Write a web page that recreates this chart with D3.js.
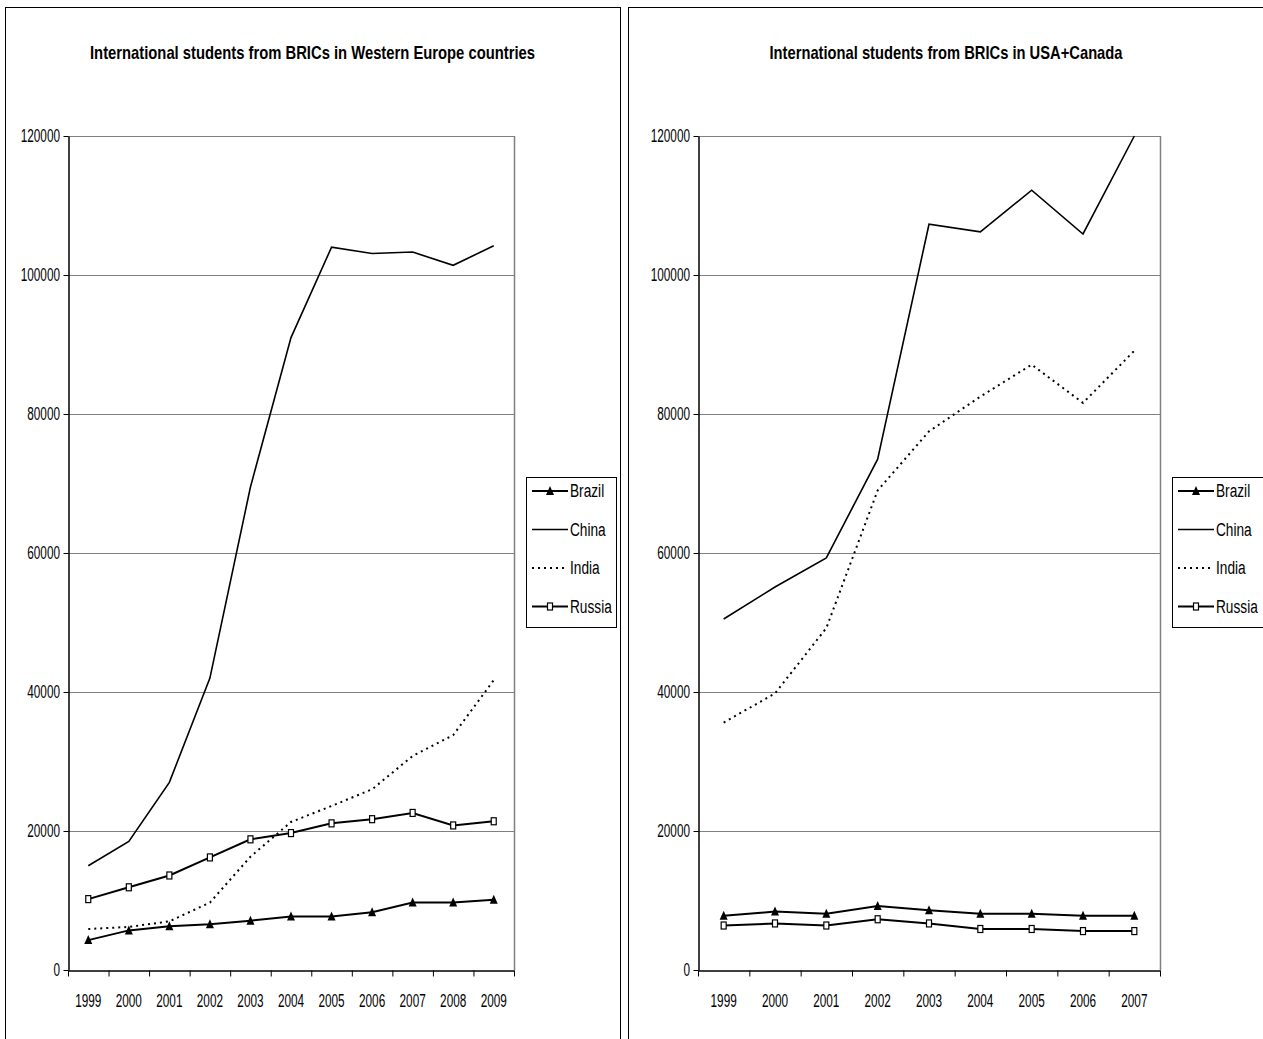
<!DOCTYPE html>
<html>
<head>
<meta charset="utf-8">
<title>International students from BRICs</title>
<script src="https://cdn.jsdelivr.net/npm/d3@7"></script>
<style>
  body { margin: 0; background: #fff; }
  text { font-family: "Liberation Sans", Arial, sans-serif; fill: #000; }
</style>
</head>
<body>
<div id="viz"></div>
<script>
// DATA
var seriesNames = ["Brazil", "China", "India", "Russia"];

var euYears  = ["1999", "2000", "2001", "2002", "2003", "2004", "2005", "2006", "2007", "2008", "2009"];
var euBrazil = [4300, 5700, 6300, 6600, 7100, 7700, 7700, 8300, 9700, 9700, 10100];
var euChina  = [15000, 18500, 27000, 42000, 69500, 91000, 104000, 103100, 103300, 101400, 104200];
var euIndia  = [5900, 6200, 7000, 9700, 16300, 21300, 23600, 26000, 30800, 33800, 41700];
var euRussia = [10200, 11900, 13600, 16200, 18800, 19700, 21100, 21700, 22600, 20800, 21400];

var naYears  = ["1999", "2000", "2001", "2002", "2003", "2004", "2005", "2006", "2007"];
var naBrazil = [7800, 8400, 8100, 9200, 8600, 8100, 8100, 7800, 7800];
var naChina  = [50500, 55100, 59300, 73500, 107300, 106200, 112200, 105900, 120000];
var naIndia  = [35600, 39800, 49200, 69000, 77500, 82500, 87100, 81600, 89100];
var naRussia = [6400, 6700, 6400, 7300, 6700, 5900, 5900, 5600, 5600];

var yTicks = [0, 20000, 40000, 60000, 80000, 100000, 120000];

// Dimensions
var w = 1263, h = 1039;
var fs = 19;
var sxAxis = 0.62;    // excel lettering is squeezed sideways
var sxLegend = 0.72;

var panels = [
  { title: "International students from BRICs in Western Europe countries",
    titleW: 445,
    years: euYears, values: [euBrazil, euChina, euIndia, euRussia],
    box: [5, 620], plot: [68, 514], legend: [526, 616] },
  { title: "International students from BRICs in USA+Canada",
    titleW: 353,
    years: naYears, values: [naBrazil, naChina, naIndia, naRussia],
    box: [628, 1264], plot: [698, 1160], legend: [1172, 1270] }
];

var styles = {
  Brazil: { width: 2,   dash: null,  marker: "tri" },
  China:  { width: 1.6, dash: null,  marker: null },
  India:  { width: 2,   dash: "2,4", marker: null },
  Russia: { width: 2,   dash: null,  marker: "sq" }
};

var svg = d3.select("#viz").append("svg")
  .attr("width", w)
  .attr("height", h);

function squeezedText(g, x, y, str, anchor, sx) {
  return g.append("text")
    .attr("transform", "translate(" + x + "," + y + ") scale(" + sx + ",1)")
    .attr("text-anchor", anchor || "start")
    .style("font-size", fs + "px")
    .text(str);
}

function drawMarker(g, type, x, y) {
  if (type === "tri") {
    g.append("path")
      .attr("d", "M" + x + "," + (y - 5) + "L" + (x + 4) + "," + (y + 4) + "L" + (x - 4) + "," + (y + 4) + "Z")
      .attr("fill", "#000");
  } else if (type === "sq") {
    g.append("rect")
      .attr("x", x - 2.5).attr("y", y - 3.5)
      .attr("width", 5).attr("height", 7)
      .attr("fill", "#fff").attr("stroke", "#000").attr("stroke-width", 1.2);
  }
}

panels.forEach(function(p) {
  var g = svg.append("g");

  // outer frame
  g.append("rect")
    .attr("x", p.box[0] + 0.5).attr("y", 7.5)
    .attr("width", p.box[1] - p.box[0]).attr("height", h)
    .attr("fill", "none").attr("stroke", "#000").attr("stroke-width", 1);

  // title
  g.append("text")
    .attr("x", (p.box[0] + p.box[1]) / 2)
    .attr("y", 59)
    .attr("text-anchor", "middle")
    .attr("textLength", p.titleW)
    .attr("lengthAdjust", "spacingAndGlyphs")
    .style("font-size", "19px")
    .style("font-weight", "bold")
    .text(p.title);

  // scales
  var x = d3.scaleBand().domain(p.years).range(p.plot);
  var xi = d3.scaleLinear().domain([0, p.years.length]).range(p.plot);
  var y = d3.scaleLinear().domain([0, 120000]).range([970, 136]);

  // gridlines + plot border (grey)
  g.selectAll(".grid")
    .data(yTicks.filter(function(d) { return d > 0; }))
    .enter().append("line")
    .attr("x1", p.plot[0]).attr("x2", p.plot[1])
    .attr("y1", function(d) { return Math.round(y(d)) + 0.5; })
    .attr("y2", function(d) { return Math.round(y(d)) + 0.5; })
    .attr("stroke", "#808080").attr("stroke-width", 1);
  g.append("line")
    .attr("x1", p.plot[1] + 0.5).attr("x2", p.plot[1] + 0.5)
    .attr("y1", y(120000)).attr("y2", y(0))
    .attr("stroke", "#808080").attr("stroke-width", 1.5);

  // y axis
  var yAxis = g.append("g")
    .attr("transform", "translate(" + (p.plot[0] + 0.5) + ",0)")
    .call(d3.axisLeft(y).tickValues(yTicks).tickSize(5).tickSizeOuter(0).tickFormat(d3.format("d")));
  yAxis.select(".domain").attr("stroke", "#000").attr("stroke-width", 1.5);
  yAxis.selectAll("text").remove();
  yTicks.forEach(function(t) {
    squeezedText(g, p.plot[0] - 8, y(t) + 6, d3.format("d")(t), "end", sxAxis);
  });

  // x axis: ticks at category boundaries, labels at centres
  var xAxis = g.append("g")
    .attr("transform", "translate(0," + (y(0) + 0.5) + ")")
    .call(d3.axisBottom(xi).ticks(p.years.length).tickSize(6).tickSizeOuter(0).tickFormat(""));
  xAxis.select(".domain").attr("stroke", "#000").attr("stroke-width", 1.5);
  p.years.forEach(function(yr) {
    squeezedText(g, x(yr) + x.bandwidth() / 2, 1007, yr, "middle", sxAxis);
  });

  // lines
  var line = d3.line()
    .x(function(d, i) { return x(p.years[i]) + x.bandwidth() / 2; })
    .y(function(d) { return y(d); });

  seriesNames.forEach(function(name, k) {
    var st = styles[name];
    g.append("path")
      .datum(p.values[k])
      .attr("d", line)
      .attr("fill", "none")
      .attr("stroke", "#000")
      .attr("stroke-width", st.width)
      .attr("stroke-dasharray", st.dash)
      .attr("stroke-linejoin", "miter");
    if (st.marker) {
      p.values[k].forEach(function(v, i) {
        drawMarker(g, st.marker, x(p.years[i]) + x.bandwidth() / 2, y(v));
      });
    }
  });

  // legend
  var lg = g.append("g");
  lg.append("rect")
    .attr("x", p.legend[0] + 0.5).attr("y", 477.5)
    .attr("width", p.legend[1] - p.legend[0]).attr("height", 150)
    .attr("fill", "#fff").attr("stroke", "#000").attr("stroke-width", 1);
  seriesNames.forEach(function(name, k) {
    var st = styles[name];
    var ly = 491 + k * 38.5;
    var lx0 = p.legend[0] + 6, lx1 = p.legend[0] + 42;
    lg.append("line")
      .attr("x1", lx0).attr("x2", lx1)
      .attr("y1", ly).attr("y2", ly)
      .attr("stroke", "#000")
      .attr("stroke-width", st.width)
      .attr("stroke-dasharray", st.dash);
    if (st.marker) drawMarker(lg, st.marker, (lx0 + lx1) / 2, ly);
    squeezedText(lg, lx1 + 2, ly + 6, name, "start", sxLegend);
  });
});
</script>
</body>
</html>
